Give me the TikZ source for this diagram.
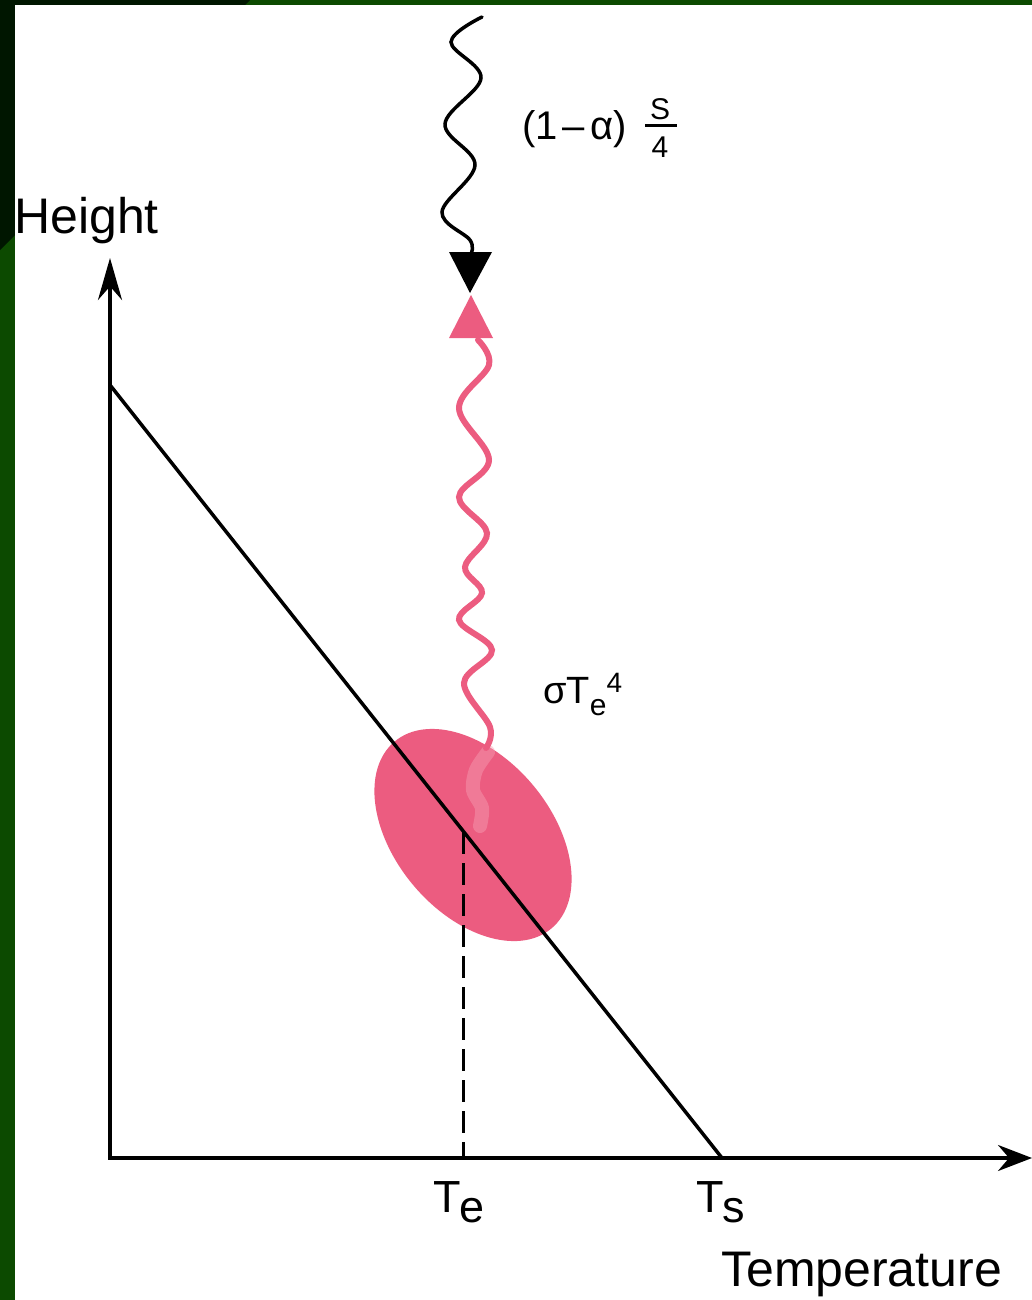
\documentclass[tikz,border=0pt]{standalone}
\usepackage{fontspec}
\setmainfont{Liberation Sans}
\usetikzlibrary{arrows.meta, calc}

\definecolor{slidegreen}{RGB}{12,74,0}
\definecolor{slidedark}{RGB}{0,22,0}
\definecolor{glow}{RGB}{236,92,128}
\definecolor{glowlight}{RGB}{246,160,180}
\newcommand{\fsz}[1]{\fontsize{#1}{#1}\selectfont}

\begin{document}
\begin{tikzpicture}[x=1pt, y=-1pt,
    axis/.style={line width=3.5pt, line join=miter},
    lab/.style={anchor=base west, inner sep=0pt},
    wave/.style={line width=3.5pt, line cap=round}]
      \useasboundingbox (0,0) rectangle (1032,1300);
      \fill[slidegreen] (0,0) rectangle (1032,1300);
      \fill[slidedark] (0,0) -- (250,0) -- (0,250) -- cycle;
      \fill[white] (15,5) rectangle (1032,1300);

      \coordinate (origin) at (110,1158);
      \coordinate (ytip) at (110,258);
      \coordinate (xtip) at (1032,1158);
      \coordinate (lapse top) at (110,385);
      \coordinate (lapse bot) at (722,1158);
      \coordinate (te cross) at (463,832);
      \coordinate (te foot) at (463,1158);

      \fill[glow, rotate around={-50:(473,835)}] (473,835) ellipse [x radius=122, y radius=78];
      \draw[glowlight, line width=14pt, line cap=round, opacity=0.45] plot[smooth] coordinates {(488,752) (476,770) (473,790) (482,808) (480,826)};
      \draw[wave, glow, line width=6pt] plot[smooth, tension=0.6] coordinates {(478,340) (489,365) (459,408) (489,460) (459,497) (487,533) (465,567) (482,593) (459,620) (492,650) (464,683) (490,727) (486,748)};
      \fill[glow] (449,338) -- (493,338) -- (471,295) -- cycle;
      \draw[wave] plot[smooth, tension=0.6] coordinates {(482,17) (451,42) (481,78) (445,124) (475,165) (442,212) (470,240) (471,254)};
      \fill (449,252) -- (492,252) -- (470,293) -- cycle;

      \draw[axis, {Stealth[length=42pt, width=24pt]}-{Stealth[length=34pt, width=26pt]}] (ytip) -- (origin) -- (xtip);
      \draw[line width=3.5pt] (lapse top) -- (lapse bot);
      \draw[line width=3pt, dash pattern=on 22pt off 9pt] (te cross) -- (te foot);

      \node[lab] (height) at (14,233) {\fsz{50}Height};
      \node[lab] (temp) at (721,1286) {\fsz{50}Temperature};
      \node[lab] (te) at (433,1212) {\fsz{45}T\kern-1pt\raisebox{-10pt}{e}};
      \node[lab] (ts) at (696,1212) {\fsz{45}T\kern-1pt\raisebox{-10pt}{s}};
      \node[lab] (albedo) at (522,140) {\fsz{40}(1\kern5pt--\kern5ptα)};
      \node[anchor=base, inner sep=0pt] (snum) at (660,120) {\fsz{30}S};
      \node[anchor=base, inner sep=0pt] (sden) at (660,158) {\fsz{30}4};
      \draw[line width=3pt] (645,126) -- (677,126);
      \node[lab] (emit) at (543,703) {\fsz{38}σT\raisebox{-12pt}{\fsz{30}e}\raisebox{11pt}{\fsz{28}4}};
\end{tikzpicture}
\end{document}
